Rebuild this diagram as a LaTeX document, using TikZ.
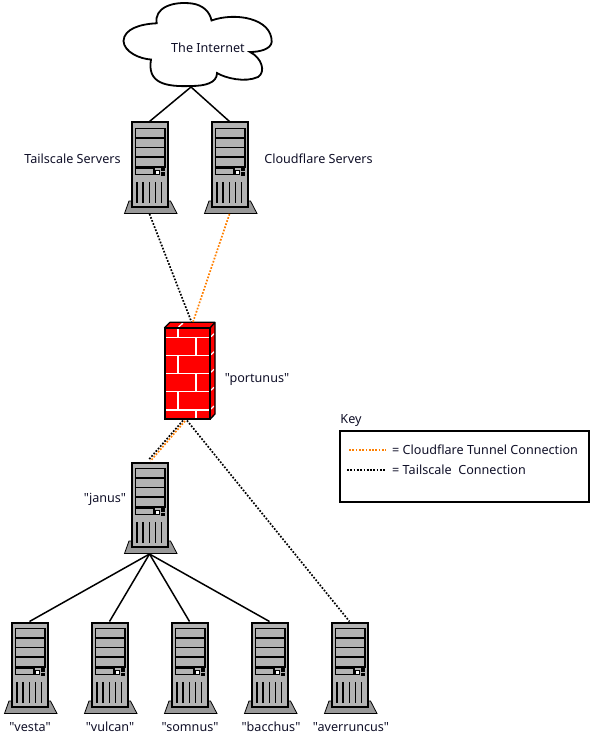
\documentclass[tikz,border=0pt]{standalone}
\usepackage{fontspec}
\newfontfamily\labelfont{Noto Sans}
\usepackage{tikz}
\usetikzlibrary{calc}

\definecolor{srvgray}{HTML}{B3B3B3}
\definecolor{basegray}{HTML}{999999}
\definecolor{tunnel}{HTML}{FF7F00}
\definecolor{inktext}{HTML}{101028}

\begin{document}
\begin{tikzpicture}[
    x=1pt, y=-1pt,
    font=\labelfont\fontsize{12.6}{15}\selectfont,
    lbl/.style={text=inktext, inner sep=0pt},
    wire/.style={draw, line width=1.5pt},
    tail/.style={draw, line width=1.7pt, dash pattern=on 1.7pt off 1.6pt},
    cftun/.style={tail, tunnel},
    server/.pic={
        % base and case
        \draw[line width=.8pt, fill=basegray] (-20.5,79) -- (21,79) -- (27.5,91.5) -- (-25,91.5) -- cycle;
        \node[draw, line width=2pt, fill=srvgray, minimum width=36pt, minimum height=84pt, inner sep=0pt, outer sep=1pt] (-box) at (0,42.5) {};
        \coordinate (-base) at (0,92);
        % drive bays
        \draw[line width=1.1pt] (-14,6.5) rectangle (15.5,45);
        \foreach \y in {16,25.5,35} \draw[line width=1.1pt] (-14,\y) -- (15.5,\y);
        \draw[line width=1.1pt] (-14,46.5) rectangle (4.5,52.5);
        \draw[line width=1.1pt, fill=white] (6,48.5) rectangle (10,52.5);
        \fill (11.5,46) rectangle (15,49.5);
        \fill (11.5,50.5) rectangle (15,54);
        % vents
        \foreach \x in {-12.5,-6.5,0,6,12} \draw[line width=1.1pt] (\x,60) -- (\x,81);
    },
]
% Cloud
\draw[line width=1.8pt, fill=white] (156.7,23.3) .. controls (154,8) and (172,1) .. (192,3.5)
    .. controls (203,5) and (210,12) .. (211.5,20.5)
    .. controls (235,12) and (272,18) .. (271.7,42)
    .. controls (271,49) and (260,52) .. (250,52)
    .. controls (262,58) and (266,72) .. (258,77)
    .. controls (245,83) and (225,78) .. (217,73)
    .. controls (217,83) and (205,86) .. (191,86)
    .. controls (165,87) and (147,83) .. (151,59.5)
    .. controls (140,59) and (124,52) .. (123.5,41)
    .. controls (124,29) and (140,24) .. (156.7,23.3) -- cycle;
\node[lbl] (internet) at (208,48) {The Internet};
\coordinate (cloudtip) at (191,87);

% Servers
\pic (tailsrv) at (149.5,122) {server};
\pic (cfsrv) at (229.5,122) {server};
\pic (janus) at (149.5,462) {server};
\pic (vesta) at (29.5,622) {server};
\pic (vulcan) at (109.5,622) {server};
\pic (somnus) at (189.5,622) {server};
\pic (bacchus) at (269.5,622) {server};
\pic (averruncus) at (349.5,622) {server};

% Firewall
\fill[red] (164.3,328) -- (170,322.3) -- (215,322.3) -- (215,414) -- (210,419.3) -- (164.3,419.3) -- cycle;
\foreach \y in {337.7,355.7,373.3,391.3,410} {
    \draw[white, line width=1.3pt] (165.5,\y) -- (209,\y);
    \draw[white, line width=1.2pt] (211,\y-1) -- (214,\y-4);
}
\foreach \a/\b in {329/337,356/373,392/409} \draw[white, line width=1.3pt] (178,\a) -- (178,\b);
\foreach \a/\b in {338/355,374/391,411/418} \draw[white, line width=1.3pt] (196,\a) -- (196,\b);
\draw[white, line width=1.3pt] (178.5,327) -- (183,323);
\node[draw, line width=1.8pt, minimum width=45pt, minimum height=91pt, inner sep=0pt, outer sep=1pt] (portunus) at (187.2,373.7) {};
\draw[line width=1.3pt, line join=round] (164.3,328) -- (170,322.3) -- (215,322.3) -- (215,414) -- (210,419.3) (210,328) -- (215,322.3);
\coordinate (fwtopblack) at (191.5,322);
\coordinate (fwtoporange) at (193,322);
\coordinate (fwlowblack) at (183,420.5);
\coordinate (fwloworange) at (185,421);
\coordinate (fwlowright) at (187,420.5);
\coordinate (janusblack) at (148.5,460);
\coordinate (janusorange) at (150.5,461);

% Connections
\draw[wire] (cloudtip) -- (tailsrv-box.north);
\draw[wire] (cloudtip) -- (cfsrv-box.north);
\draw[tail] (tailsrv-base) -- (fwtopblack);
\draw[cftun] (cfsrv-base) -- (fwtoporange);
\draw[tail] (fwlowright) -- (averruncus-box.north);
\draw[tail] (fwlowblack) -- (janusblack);
\draw[cftun] (fwloworange) -- (janusorange);
\foreach \n in {vesta,vulcan,somnus,bacchus}
    \draw[wire] (janus-base) -- (\n-box.north);

% Labels
\node[lbl] at (72.5,158.5) (tailname) {Tailscale Servers};
\node[lbl] at (318.5,158.5) (cfname) {Cloudflare Servers};
\node[lbl] at (257,379.5) (portname) {"portunus"};
\node[lbl] at (105,499.5) (janusname) {"janus"};
\node[lbl] at (30,727) (vestaname) {"vesta"};
\node[lbl] at (110,727) (vulcanname) {"vulcan"};
\node[lbl] at (190,727) (somnusname) {"somnus"};
\node[lbl] at (271,727) (bacchusname) {"bacchus"};
\node[lbl] at (351,727) (averruncusname) {"averruncus"};

% Key
\node[lbl] at (351,421) (keyname) {Key};
\node[draw, line width=2pt, minimum width=249pt, minimum height=71pt, inner sep=0pt] (keybox) at (464.5,466) {};
\coordinate (cfa) at (349,450);
\coordinate (cfb) at (386,450);
\coordinate (tsa) at (347,470);
\coordinate (tsb) at (385,470);
\draw[cftun] (cfa) -- (cfb);
\draw[tail] (tsa) -- (tsb);
\node[lbl, anchor=west] at (392,450) (cfkey) {= Cloudflare Tunnel Connection};
\node[lbl, anchor=west] at (392,470) (tskey) {= Tailscale\ \ Connection};
\path[use as bounding box] (0,0) rectangle (591,738);
\end{tikzpicture}
\end{document}
